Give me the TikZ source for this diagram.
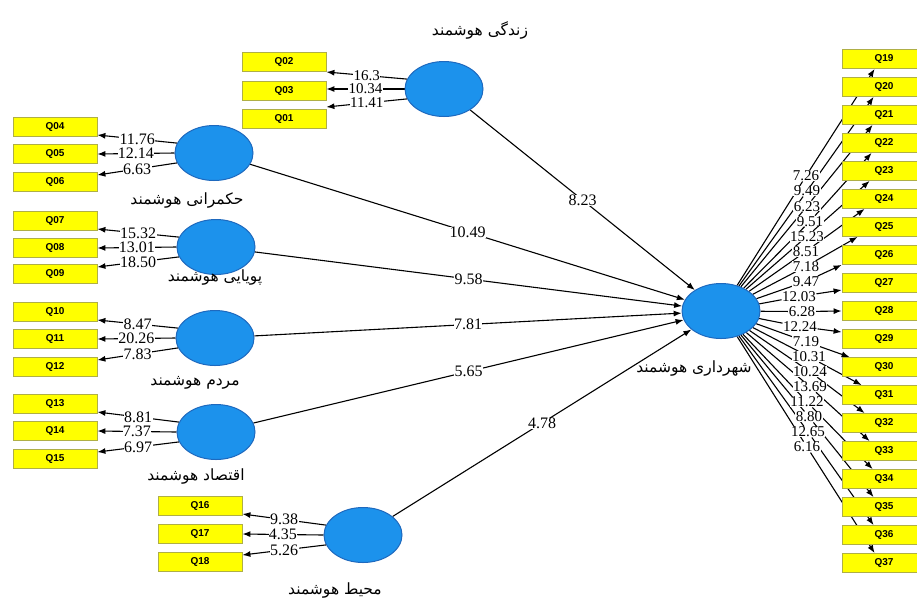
\documentclass[tikz,border=0pt]{standalone}
\usepackage{fontspec}
\setmainfont{Liberation Serif}
\newfontfamily\boxfont{Liberation Sans}
\newfontfamily\farsifont[Script=Arabic]{DejaVu Sans}
\TeXXeTstate=1
\usetikzlibrary{positioning,calc,arrows.meta,shapes.geometric,backgrounds}
\definecolor{plsBlue}      {RGB}{28,146,236}
\definecolor{plsBlueEdge}  {RGB}{30,105,190}
\definecolor{plsYellow}    {RGB}{255,255,0}
\definecolor{plsYellowEdge}{RGB}{175,175,70}
\pgfdeclarelayer{paper}
\pgfdeclarelayer{background}
\pgfsetlayers{paper,background,main}
\tikzset{
  latent/.style={ellipse,draw=plsBlueEdge,fill=plsBlue,line width=1pt,minimum width=78pt,minimum height=55pt,inner sep=0pt},
  indicator/.style={rectangle,draw=plsYellowEdge,fill=plsYellow,line width=0.8pt,minimum width=84pt,minimum height=19pt,inner sep=0pt,font=\boxfont\bfseries\fontsize{10}{10}\selectfont},
  tval/.style={fill=white,inner sep=0.4pt,text height=10.2pt,text depth=0pt,font=\fontsize{16}{16}\selectfont},
  rval/.style={tval,text height=9.8pt,font=\fontsize{15}{15}\selectfont},
  farsi/.style={font=\farsifont\fontsize{15.5}{18}\selectfont},
  loading/.style={line width=1.1pt,-{Latex[length=8pt,width=6pt]}},
  pathArrow/.style={line width=1.1pt,-{Latex[length=8pt,width=6pt]}}
}
\begin{document}
\begin{tikzpicture}[x=1pt,y=-1pt]
  \useasboundingbox (0,0) rectangle (917,614);
  \begin{pgfonlayer}{paper}
    \fill[white] (0,0) rectangle (917,614);
  \end{pgfonlayer}

  % latent variables
  \node[latent] (live) at (444,89)  {};
  \node[latent] (gov)  at (214,153) {};
  \node[latent] (mob)  at (216,247) {};
  \node[latent] (ppl)  at (215,338) {};
  \node[latent] (eco)  at (216,432) {};
  \node[latent] (env)  at (363,535) {};
  \node[latent] (city) at (721,311) {};

  \node[farsi] (liveName) at (480,30)  {\beginR زندگی هوشمند\endR};
  \node[farsi] (govName)  at (187,200) {\beginR حکمرانی هوشمند\endR};
  \node[farsi] (mobName)  at (215,277) {\beginR پویایی هوشمند\endR};
  \node[farsi] (pplName)  at (195,383) {\beginR مردم هوشمند\endR};
  \node[farsi] (ecoName)  at (196,476) {\beginR اقتصاد هوشمند\endR};
  \node[farsi] (envName)  at (335,590) {\beginR محیط هوشمند\endR};
  \node[farsi] (cityName) at (694,368) {\beginR شهرداری هوشمند\endR};

  % indicators
  \node[indicator] (Q02) at (284,62)  {Q02};
  \node[indicator] (Q03) at (284,91)  {Q03};
  \node[indicator] (Q01) at (284,119) {Q01};
  \node[indicator] (Q04) at (55,127)  {Q04};
  \node[indicator] (Q05) at (55,154)  {Q05};
  \node[indicator] (Q06) at (55,182)  {Q06};
  \node[indicator] (Q07) at (55,221)  {Q07};
  \node[indicator] (Q08) at (55,248)  {Q08};
  \node[indicator] (Q09) at (55,274)  {Q09};
  \node[indicator] (Q10) at (55,312)  {Q10};
  \node[indicator] (Q11) at (55,339)  {Q11};
  \node[indicator] (Q12) at (55,367)  {Q12};
  \node[indicator] (Q13) at (55,404)  {Q13};
  \node[indicator] (Q14) at (55,431)  {Q14};
  \node[indicator] (Q15) at (55,459)  {Q15};
  \node[indicator] (Q16) at (200,506) {Q16};
  \node[indicator] (Q17) at (200,534) {Q17};
  \node[indicator] (Q18) at (200,562) {Q18};
  \foreach \k in {19,...,37}
    \node[indicator] (Q\k) at (884,{59+28*(\k-19)}) {Q\k};

  % outer loadings of the municipality
  \foreach \v/\x [count=\k from 19] in {7.26/806,9.49/807,6.23/807,9.51/810,15.23/807,8.51/806,7.18/806,
      9.47/806,12.03/799,6.28/802,12.24/800,7.19/806,10.31/809,10.24/810,13.69/810,11.22/807,8.80/809,12.65/808,6.16/807}
    \node[rval] (v\k) at (\x,{176+15.06*(\k-19)}) {\v};
  \foreach \k/\a/\dx/\dy in {19/south west/33/0,20/south west/32/0,21/south west/31/0,22/south west/30/0,
      23/south west/28/0,24/south west/23/0,25/south west/16/0,26/south west/0/0,27/west/0/7,28/west/0/0,
      29/west/0/-7,30/north west/8/0,31/north west/20/0,32/north west/23/0,33/north west/28/0,
      34/north west/31/0,35/north west/32/0,36/north west/32/0,37/north west/33/0}
    \coordinate (e\k) at ($(Q\k.\a)+(\dx,\dy)$);

  \begin{scope}[on background layer]
    \draw[loading] (live.165) -- node[rval]{16.3}  ([yshift=-10pt]Q02.east);
    \draw[loading] (live.180) -- node[rval]{10.34} ([yshift=2pt]Q03.east);
    \draw[loading] (live.195) -- node[rval]{11.41} ([yshift=12pt]Q01.east);

    \draw[loading] (gov.165) -- node[tval]{11.76} ([yshift=-8pt]Q04.east);
    \draw[loading] (gov.180) -- node[tval]{12.14} (Q05.east);
    \draw[loading] (gov.195) -- node[tval]{6.63}  ([yshift=7pt]Q06.east);

    \draw[loading] (mob.165) -- node[tval]{15.32} ([yshift=-8pt]Q07.east);
    \draw[loading] (mob.180) -- node[tval]{13.01} (Q08.east);
    \draw[loading] (mob.195) -- node[tval]{18.50} ([yshift=7pt]Q09.east);

    \draw[loading] (ppl.165) -- node[tval]{8.47}  ([yshift=-8pt]Q10.east);
    \draw[loading] (ppl.180) -- node[tval]{20.26} (Q11.east);
    \draw[loading] (ppl.195) -- node[tval]{7.83}  ([yshift=7pt]Q12.east);

    \draw[loading] (eco.165) -- node[tval]{8.81}  ([yshift=-8pt]Q13.east);
    \draw[loading] (eco.180) -- node[tval]{7.37}  (Q14.east);
    \draw[loading] (eco.195) -- node[tval]{6.97}  ([yshift=7pt]Q15.east);

    \draw[loading] (env.165) -- node[tval]{9.38}  ([yshift=-8pt]Q16.east);
    \draw[loading] (env.180) -- node[tval]{4.35}  (Q17.east);
    \draw[loading] (env.195) -- node[tval]{5.26}  ([yshift=7pt]Q18.east);

    \foreach \k in {19,...,37}
      \draw[loading] (city) -- (v\k) -- (e\k);

    % inner model
    \draw[pathArrow] (live) -- node[tval]{8.23}  (city);
    \draw[pathArrow] (gov)  -- node[tval]{10.49} (city);
    \draw[pathArrow] (mob)  -- node[tval]{9.58}  (city);
    \draw[pathArrow] (ppl)  -- node[tval]{7.81}  (city);
    \draw[pathArrow] (eco)  -- node[tval]{5.65}  (city);
    \draw[pathArrow] (env)  -- node[tval]{4.78}  (city);
  \end{scope}
\end{tikzpicture}
\end{document}
